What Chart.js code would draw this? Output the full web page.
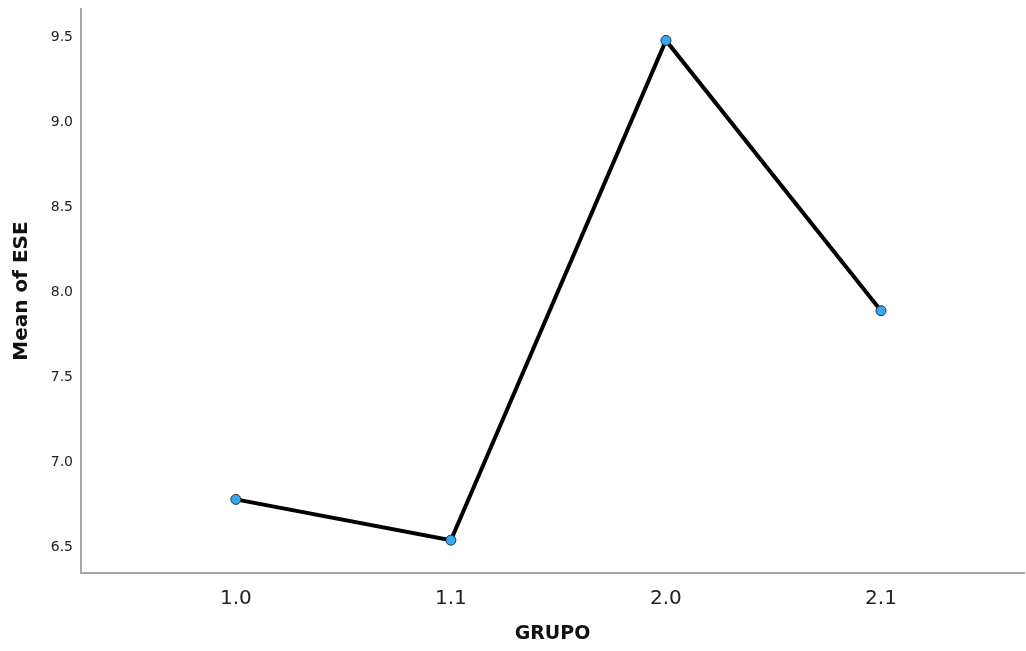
<!DOCTYPE html>
<html>
<head>
    <meta charset="UTF-8">
    <title>Mean of ESE by GRUPO</title>
    <script src="https://cdn.jsdelivr.net/npm/chart.js@4"></script>
    <style>
        body { margin: 0; background: #fff; }
        canvas { display: block; }
    </style>
</head>
<body>
    <canvas id="meanChart" width="1026" height="651"></canvas>
    <script>
        const groups = ['1.0', '1.1', '2.0', '2.1'];
        const meanESE = [6.78, 6.54, 9.48, 7.89];
        const yTicks = [6.5, 7.0, 7.5, 8.0, 8.5, 9.0, 9.5];

        const axisFont = 'DejaVu Sans';

        new Chart(document.getElementById('meanChart'), {
            type: 'line',
            data: {
                datasets: [{
                    label: 'Mean of ESE',
                    data: meanESE.map((v, i) => ({ x: i, y: v })),
                    borderColor: '#000',
                    borderWidth: 4,
                    pointRadius: 5,
                    pointBackgroundColor: '#3aa6f0',
                    pointBorderColor: '#1f3346',
                    pointBorderWidth: 1,
                    tension: 0
                }]
            },
            options: {
                responsive: false,
                animation: false,
                layout: { autoPadding: false, padding: { top: 9, right: 2, left: 0, bottom: 0 } },
                plugins: {
                    legend: { display: false },
                    tooltip: { enabled: false }
                },
                scales: {
                    x: {
                        type: 'linear',
                        min: -0.72,
                        max: 3.665,
                        grid: { display: false, drawTicks: false },
                        border: { color: '#a6a6a6', width: 2 },
                        afterBuildTicks: s => { s.ticks = groups.map((g, i) => ({ value: i })); },
                        afterFit: s => {
                            s.height = 78;
                            s.paddingLeft = 0;
                            s.paddingRight = 0;
                        },
                        ticks: {
                            padding: 14,
                            color: '#222',
                            font: { family: axisFont, size: 20 },
                            callback: v => groups[v]
                        },
                        title: {
                            display: true,
                            text: 'GRUPO',
                            color: '#111',
                            font: { family: axisFont, size: 19, weight: 'bold' },
                            padding: { top: 0, bottom: 6 }
                        }
                    },
                    y: {
                        min: 6.347,
                        max: 9.665,
                        grid: { display: false, drawTicks: false },
                        border: { color: '#a6a6a6', width: 2 },
                        afterBuildTicks: s => { s.ticks = yTicks.map(v => ({ value: v })); },
                        afterFit: s => {
                            s.width = 81;
                            s.paddingTop = 0;
                            s.paddingBottom = 0;
                        },
                        ticks: {
                            padding: 8,
                            color: '#222',
                            font: { family: axisFont, size: 14 },
                            callback: v => v.toFixed(1)
                        },
                        title: {
                            display: true,
                            text: 'Mean of ESE',
                            color: '#111',
                            font: { family: axisFont, size: 20, weight: 'bold' },
                            padding: { top: 10, bottom: 0 }
                        }
                    }
                }
            }
        });
    </script>
</body>
</html>
